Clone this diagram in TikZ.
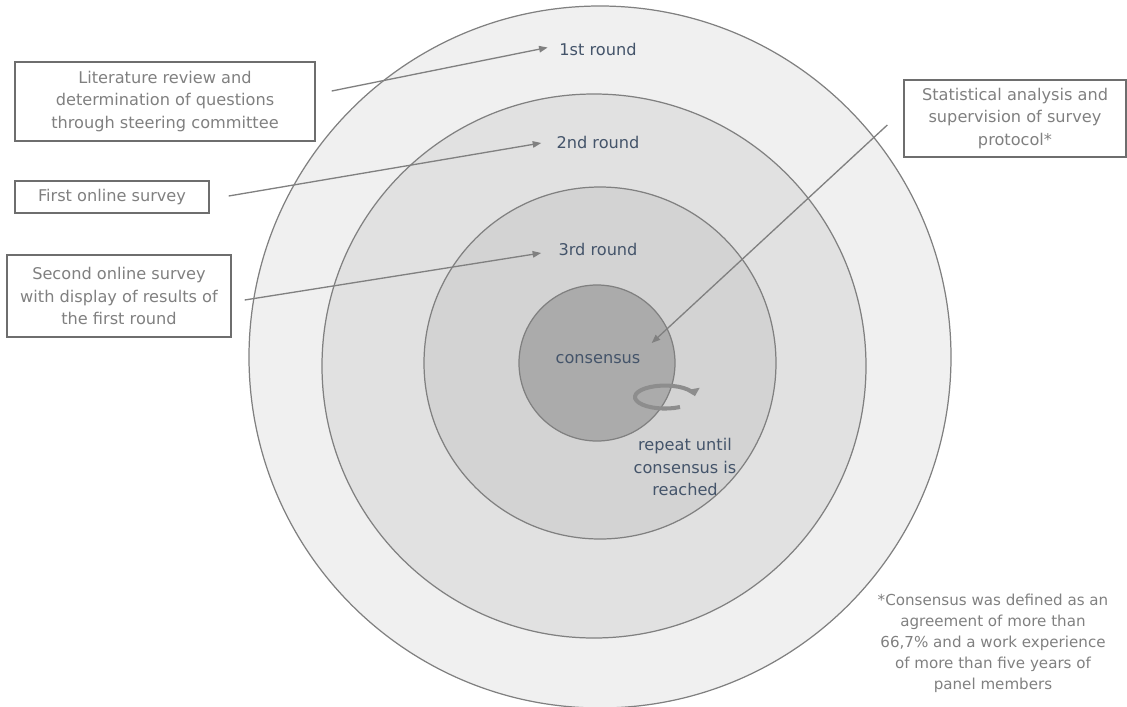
\documentclass[tikz,border=0pt]{standalone}
\usepackage{fontspec}
\setmainfont{DejaVu Sans}
\usepackage{tikz}
\usetikzlibrary{arrows.meta,positioning}
\usepackage{xcolor}
\definecolor{ringA}{RGB}{240,240,240}
\definecolor{ringB}{RGB}{225,225,225}
\definecolor{ringC}{RGB}{211,211,211}
\definecolor{ringD}{RGB}{171,171,171}
\definecolor{edgegray}{RGB}{128,128,128}
\definecolor{boxgray}{RGB}{110,110,110}
\definecolor{txtgray}{RGB}{128,128,128}
\definecolor{slate}{RGB}{68,84,106}
\tikzstyle{ring} = [draw=edgegray, line width=0.7pt]
\tikzstyle{stagebox} = [draw=boxgray, line width=0.8pt, text=txtgray, align=center, font=\fontsize{9.2}{13}\selectfont]
\tikzstyle{roundlbl} = [text=slate, inner sep=0pt, font=\fontsize{9.2}{13}\selectfont]
\tikzstyle{pointer} = [line width=0.75pt, draw=edgegray, -{Triangle[length=0.17cm,width=0.13cm]}]

\begin{document}
\begin{tikzpicture}[x=0.02cm, y=-0.02cm]
\useasboundingbox (0,0) rectangle (1127,707);

% Rings
\draw[ring, fill=ringA] (600,357) circle[radius=351];
\draw[ring, fill=ringB] (594,366) circle[radius=272];
\draw[ring, fill=ringC] (600,363) circle[radius=176];
\draw[ring, fill=ringD] (597,363) circle[radius=78];

% Labels in the rings
\node[roundlbl] (r1) at (598,49) {1st round};
\node[roundlbl] (r2) at (598,142) {2nd round};
\node[roundlbl] (r3) at (598,249) {3rd round};
\node[roundlbl] (cons) at (598,359) {consensus};
\node[roundlbl, align=center] (rep) at (685,467) {repeat until\\consensus is\\reached};

% Loop arrow
\draw[line width=2.3pt, draw=edgegray!90, -{Triangle[length=0.15cm,width=0.24cm]}]
  (680,407) arc[start angle=60, end angle=356, x radius=30, y radius=11.5];

% Boxes
\node[stagebox, minimum width=6cm, minimum height=1.58cm] (lit) at (165,101.5)
  {Literature review and\\determination of questions\\through steering committee};
\node[stagebox, minimum width=3.88cm, minimum height=0.64cm] (surv1) at (112,197)
  {First online survey};
\node[stagebox, minimum width=4.48cm, minimum height=1.64cm] (surv2) at (119,296)
  {Second online survey\\with display of results of\\the first round};
\node[stagebox, minimum width=4.44cm, minimum height=1.54cm] (stat) at (1015,118.5)
  {Statistical analysis and\\supervision of survey\\protocol*};

% Arrows
\draw[pointer] ([shift={(16,-10.5)}]lit.east) -- ([shift={(-11.5,-1.5)}]r1.west);
\draw[pointer] ([shift={(19,-1)}]surv1.east) -- ([shift={(-15,1)}]r2.west);
\draw[pointer] ([shift={(13,4)}]surv2.east) -- ([shift={(-17,4)}]r3.west);
\draw[pointer] ([shift={(-16,6.5)}]stat.west) -- ([shift={(11,-11)}]cons.north east);

% Footnote
\node[text=txtgray, align=center, font=\fontsize{8.6}{12}\selectfont] (note) at (993,643)
  {*Consensus was defined as an\\agreement of more than\\66,7\% and a work experience\\of more than five years of\\panel members};
\end{tikzpicture}
\end{document}
